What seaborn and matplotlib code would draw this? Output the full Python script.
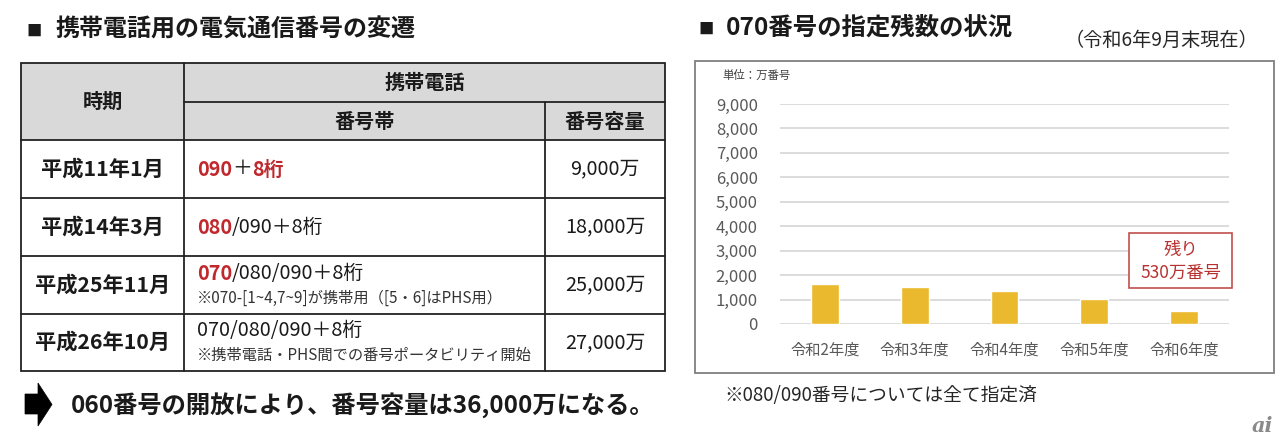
import matplotlib
matplotlib.use("Agg")
import matplotlib.pyplot as plt
import seaborn as sns
from matplotlib.patches import Rectangle, Polygon

# ---------------- data ----------------
periods = ['平成11年1月', '平成14年3月', '平成25年11月', '平成26年10月']
band_segments = [
    [('090', True), ('＋', False), ('8桁', True)],
    [('080', True), ('/090＋8桁', False)],
    [('070', True), ('/080/090＋8桁', False)],
    [('070/080/090＋8桁', False)],
]
band_notes = ['', '', '※070-[1~4,7~9]が携帯用（[5・6]はPHS用）',
              '※携帯電話・PHS間での番号ポータビリティ開始']
capacities = ['9,000万', '18,000万', '25,000万', '27,000万']

years = ['令和2年度', '令和3年度', '令和4年度', '令和5年度', '令和6年度']
remaining = [1650, 1520, 1370, 1040, 530]
y_ticks = [0, 1000, 2000, 3000, 4000, 5000, 6000, 7000, 8000, 9000]

# ---------------- style ----------------
sns.set_theme(style="white")
plt.rcParams['font.family'] = ['Noto Sans CJK JP', 'DejaVu Sans']

RED = '#C0282D'
BLACK = '#1a1a1a'
GRAY_FILL = '#D9D9D9'
BAR = '#EBB92D'

W, H = 1280, 438
fig = plt.figure(figsize=(12.8, 4.38), dpi=100)
fig.patch.set_facecolor('white')

bg = fig.add_axes([0, 0, 1, 1])
bg.set_xlim(0, W)
bg.set_ylim(H, 0)
bg.axis('off')

# ---------------- left section ----------------
bg.text(34, 31, '■', fontsize=11, ha='center', va='center', color=BLACK)
bg.text(55, 30, '携帯電話用の電気通信番号の変遷', fontsize=17.3, fontweight='bold',
        ha='left', va='center', color=BLACK)

x0, x1, x2, x3 = 21, 184, 545, 665
y_top, y_mid, y_head = 63, 102, 140
row_edges = [140, 198, 256, 314, 371]

bg.add_patch(Rectangle((x0, y_top), x3 - x0, y_head - y_top, facecolor=GRAY_FILL,
                       edgecolor='none', zorder=1))
lw = 1.3
lc = '#222222'
bg.add_patch(Rectangle((x0, y_top), x3 - x0, row_edges[-1] - y_top, facecolor='none',
                       edgecolor=lc, lw=lw, zorder=3))
bg.plot([x1, x1], [y_top, row_edges[-1]], color=lc, lw=lw, zorder=3)
bg.plot([x2, x2], [y_mid, row_edges[-1]], color=lc, lw=lw, zorder=3)
bg.plot([x1, x3], [y_mid, y_mid], color=lc, lw=lw, zorder=3)
for ye in row_edges[:-1]:
    bg.plot([x0, x3], [ye, ye], color=lc, lw=lw, zorder=3)

bg.text((x0 + x1) / 2, (y_top + y_head) / 2, '時期', fontsize=14.5, fontweight='bold',
        ha='center', va='center', color=BLACK, zorder=4)
bg.text((x1 + x3) / 2, (y_top + y_mid) / 2, '携帯電話', fontsize=14.5, fontweight='bold',
        ha='center', va='center', color=BLACK, zorder=4)
bg.text((x1 + x2) / 2, (y_mid + y_head) / 2, '番号帯', fontsize=14.5, fontweight='bold',
        ha='center', va='center', color=BLACK, zorder=4)
bg.text((x2 + x3) / 2, (y_mid + y_head) / 2, '番号容量', fontsize=14.5, fontweight='bold',
        ha='center', va='center', color=BLACK, zorder=4)

for i in range(len(periods)):
    ya, yb = row_edges[i], row_edges[i + 1]
    yc = (ya + yb) / 2
    bg.text((x0 + x1) / 2, yc, periods[i], fontsize=15.3, fontweight='bold',
            ha='center', va='center', color=BLACK, zorder=4)
    bg.text((x2 + x3) / 2, yc, capacities[i], fontsize=14.3,
            ha='center', va='center', color=BLACK, zorder=4)
    line_y = yc if not band_notes[i] else yc - 12
    prev = None
    for seg, red in band_segments[i]:
        kw = dict(fontsize=14.3, color=RED if red else BLACK,
                  fontweight='bold' if red else 'normal', zorder=4)
        if prev is None:
            prev = bg.text(197, line_y, seg, ha='left', va='center', **kw)
        else:
            prev = bg.annotate(seg, xy=(1, 0.5), xycoords=prev, ha='left', va='center', **kw)
    if band_notes[i]:
        bg.text(197, yc + 13, band_notes[i], fontsize=11, ha='left', va='center',
                color='#333333', zorder=4)

# bottom arrow + statement
bg.add_patch(Polygon([(25, 394), (38, 394), (38, 383), (52, 404.5), (38, 426),
                      (38, 414), (25, 414)], closed=True, facecolor='black',
                     edgecolor='black', lw=0.5))
bg.text(71, 405, '060番号の開放により、番号容量は36,000万になる。', fontsize=17.5,
        fontweight='bold', ha='left', va='center', color=BLACK)

# ---------------- right section ----------------
bg.text(706, 29, '■', fontsize=11, ha='center', va='center', color=BLACK)
bg.text(726, 28, '070番号の指定残数の状況', fontsize=17.6, fontweight='bold',
        ha='left', va='center', color=BLACK)
bg.text(1258, 40, '（令和6年9月末現在）', fontsize=13.8, ha='right', va='center',
        color='#262626')
bg.add_patch(Rectangle((695, 61), 1274 - 695, 373 - 61, facecolor='white',
                       edgecolor='#7F7F7F', lw=1.3, zorder=0))
bg.text(722, 75, '単位：万番号', fontsize=8.2, ha='left', va='center', color='#404040')
bg.text(724, 396, '※080/090番号については全て指定済', fontsize=13.5, ha='left',
        va='center', color='#262626')
bg.text(1262, 426, 'ai', fontsize=15, fontstyle='italic', fontweight='bold',
        ha='center', va='center', color='#8a8a8a', family='DejaVu Serif')

# bar chart
ax = fig.add_axes([780 / W, (H - 324) / H, 449 / W, 220 / H])
ax.set_facecolor('none')
sns.barplot(x=years, y=remaining, color=BAR, saturation=1, width=0.31, ax=ax, zorder=3)
ax.set_ylim(0, 9000)
ax.set_xlim(-0.5, len(years) - 0.5)
ax.set_yticks(y_ticks)
ax.set_yticklabels([f'{v:,}' for v in y_ticks])
ax.yaxis.grid(True, color='#D9D9D9', lw=1.3)
ax.xaxis.grid(False)
ax.set_axisbelow(True)
for s in ax.spines.values():
    s.set_visible(False)
ax.tick_params(axis='y', length=0, pad=16, labelsize=12, labelcolor='#595959')
ax.tick_params(axis='x', length=0, pad=13, labelsize=11, labelcolor='#595959')
ax.set_xlabel('')
ax.set_ylabel('')

# annotation box on top
top = fig.add_axes([0, 0, 1, 1])
top.set_xlim(0, W)
top.set_ylim(H, 0)
top.axis('off')
top.patch.set_alpha(0)
top.add_patch(Rectangle((1129, 233), 103, 55, facecolor='white', edgecolor='#C0504D', lw=1.2))
top.text(1180.5, 261, '残り\n530万番号', fontsize=12.5, ha='center', va='center',
         color='#B8312F', linespacing=1.35)

fig.savefig('out.png', dpi=100)
